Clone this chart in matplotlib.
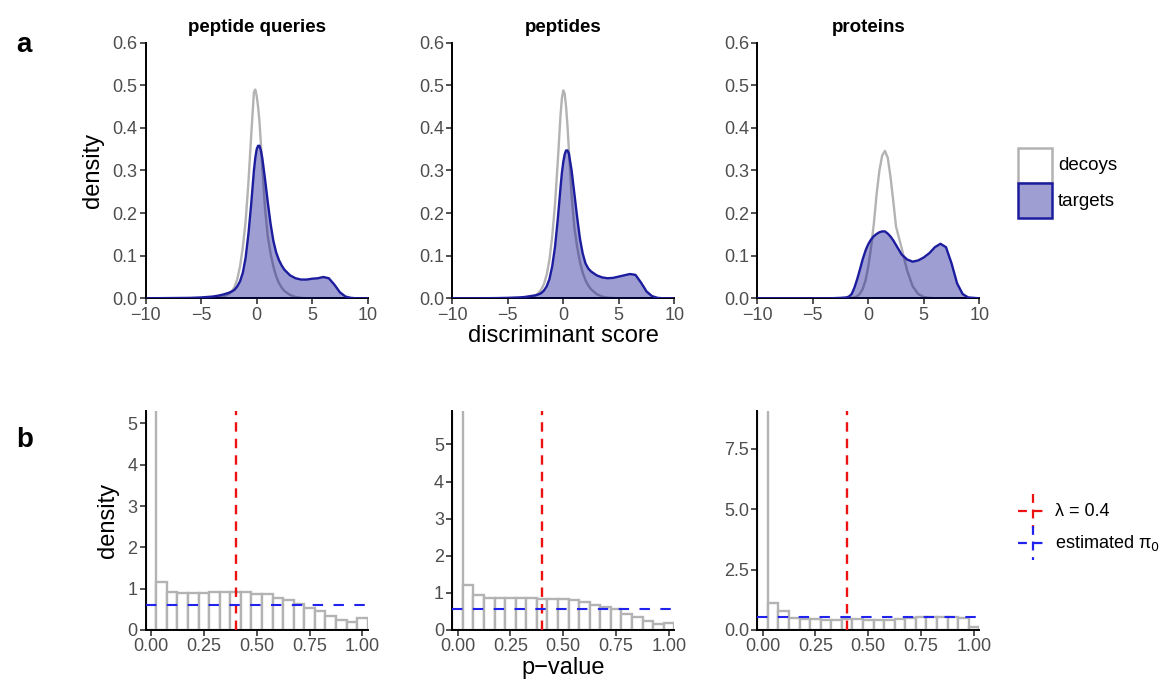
import numpy as np
import matplotlib
matplotlib.use("Agg")
import matplotlib.pyplot as plt
from matplotlib.patches import Rectangle
from matplotlib.lines import Line2D

plt.rcParams['font.family'] = ['Liberation Sans', 'DejaVu Sans']

# ---------------- data ----------------
panel_titles = ["peptide queries", "peptides", "proteins"]

score_grid = [-10, -8, -6, -5, -4, -3.5, -3, -2.5, -2.25, -2, -1.75, -1.5, -1.25, -1,
              -0.75, -0.5, -0.25, -0.125, 0, 0.125, 0.25, 0.375, 0.5, 0.75, 1, 1.25, 1.5, 1.75,
              2, 2.25, 2.5, 3, 3.5, 4, 4.5, 5, 5.5, 6, 6.5, 7, 7.5, 8, 8.5, 9, 10]

decoy_queries = [0, 0, 0, 0.0005, 0.001, 0.002, 0.004, 0.01, 0.016, 0.026, 0.045, 0.075, 0.12, 0.18,
                 0.27, 0.38, 0.484, 0.49, 0.475, 0.45, 0.415, 0.365, 0.31, 0.21, 0.145, 0.105, 0.075, 0.052,
                 0.036, 0.025, 0.017, 0.008, 0.003, 0.001, 0, 0, 0, 0, 0, 0, 0, 0, 0, 0, 0]
target_queries = [0, 0.0005, 0.001, 0.002, 0.004, 0.006, 0.009, 0.013, 0.016, 0.02, 0.028, 0.04, 0.06, 0.095,
                  0.15, 0.22, 0.30, 0.33, 0.35, 0.358, 0.358, 0.347, 0.33, 0.28, 0.225, 0.175, 0.135, 0.108,
                  0.09, 0.077, 0.067, 0.054, 0.047, 0.044, 0.044, 0.046, 0.047, 0.05, 0.047, 0.032, 0.014,
                  0.004, 0.001, 0, 0]

decoy_peptides = [0, 0, 0, 0.0005, 0.001, 0.002, 0.003, 0.007, 0.012, 0.02, 0.033, 0.055, 0.09, 0.145,
                  0.22, 0.32, 0.43, 0.47, 0.488, 0.48, 0.45, 0.405, 0.35, 0.24, 0.165, 0.12, 0.085, 0.06,
                  0.042, 0.03, 0.021, 0.01, 0.004, 0.0015, 0.0005, 0, 0, 0, 0, 0, 0, 0, 0, 0, 0]
target_peptides = [0, 0, 0.0005, 0.001, 0.002, 0.003, 0.005, 0.007, 0.009, 0.012, 0.018, 0.028, 0.045, 0.075,
                   0.12, 0.185, 0.26, 0.295, 0.32, 0.338, 0.347, 0.347, 0.34, 0.30, 0.245, 0.19, 0.14, 0.105,
                   0.082, 0.07, 0.063, 0.054, 0.049, 0.047, 0.048, 0.051, 0.054, 0.057, 0.055, 0.037, 0.016,
                   0.005, 0.001, 0, 0]

decoy_proteins = [0, 0, 0, 0, 0, 0, 0, 0, 0, 0, 0.0005, 0.001, 0.002, 0.005,
                  0.011, 0.022, 0.042, 0.058, 0.075, 0.097, 0.12, 0.148, 0.175, 0.245, 0.30, 0.335, 0.346, 0.33,
                  0.285, 0.228, 0.168, 0.118, 0.065, 0.028, 0.01, 0.003, 0.001, 0, 0, 0, 0, 0, 0, 0, 0]
target_proteins = [0, 0, 0, 0, 0, 0, 0.0005, 0.001, 0.0015, 0.002, 0.004, 0.01, 0.025, 0.045,
                   0.068, 0.092, 0.112, 0.12, 0.127, 0.133, 0.138, 0.142, 0.146, 0.151, 0.155, 0.157, 0.157, 0.152,
                   0.145, 0.136, 0.125, 0.103, 0.091, 0.086, 0.089, 0.096, 0.106, 0.12, 0.128, 0.12, 0.082,
                   0.035, 0.01, 0.002, 0]

decoy_curves = [decoy_queries, decoy_peptides, decoy_proteins]
target_curves = [target_queries, target_peptides, target_proteins]

pvalue_bins = [0.00, 0.05, 0.10, 0.15, 0.20, 0.25, 0.30, 0.35, 0.40, 0.45, 0.50,
               0.55, 0.60, 0.65, 0.70, 0.75, 0.80, 0.85, 0.90, 0.95, 1.00]
hist_queries = [14.0, 1.15, 0.93, 0.89, 0.89, 0.90, 0.91, 0.92, 0.93, 0.92, 0.88,
                0.86, 0.78, 0.72, 0.64, 0.54, 0.45, 0.35, 0.25, 0.19, 0.28]
hist_peptides = [16.0, 1.2, 0.93, 0.87, 0.85, 0.85, 0.85, 0.85, 0.84, 0.84, 0.83,
                 0.81, 0.75, 0.68, 0.63, 0.56, 0.43, 0.34, 0.25, 0.16, 0.18]
hist_proteins = [30.0, 1.11, 0.77, 0.48, 0.45, 0.45, 0.43, 0.40, 0.45, 0.45, 0.43,
                 0.43, 0.40, 0.45, 0.48, 0.52, 0.55, 0.55, 0.55, 0.48, 0.14]
hists = [hist_queries, hist_peptides, hist_proteins]

lambda_value = 0.4
pi0_values = [0.6, 0.57, 0.55]
hist_ymax = [5.3, 5.9, 9.05]
hist_yticks = [[0, 1, 2, 3, 4, 5], [0, 1, 2, 3, 4, 5], [0, 2.5, 5.0, 7.5]]
hist_yticklabels = [["0", "1", "2", "3", "4", "5"], ["0", "1", "2", "3", "4", "5"],
                    ["0.0", "2.5", "5.0", "7.5"]]

# ---------------- figure ----------------
W, H = 1165, 686
fig = plt.figure(figsize=(W / 100, H / 100), dpi=100)

def fx(x):
    return x / W

def fy(y):
    return 1 - y / H

lefts = [145.7, 452.3, 757.3]
width = 222.0
top_y0, top_y1 = 42.7, 298.3
bot_y0, bot_y1 = 411.0, 630.0

decoy_col = "#b3b3b3"
target_edge = "#1c1c9e"
target_fill = "#00008b"
tick_col = "#4d4d4d"

def style_axes(ax):
    for s in ["top", "right"]:
        ax.spines[s].set_visible(False)
    for s in ["left", "bottom"]:
        ax.spines[s].set_linewidth(1.4)
        ax.spines[s].set_color("black")
    ax.tick_params(axis="both", length=4, width=1.2, color="#333333",
                   labelcolor=tick_col, labelsize=13, pad=2)

x = np.array(score_grid)
for i in range(3):
    ax = fig.add_axes([fx(lefts[i]), fy(top_y1), fx(width), (top_y1 - top_y0) / H])
    d = np.array(decoy_curves[i])
    t = np.array(target_curves[i])
    ax.fill_between(x, 0, d, color="white", zorder=1)
    ax.plot(x, d, color=decoy_col, lw=1.7, zorder=2)
    ax.fill_between(x, 0, t, color=target_fill, alpha=0.38, lw=0, zorder=3)
    ax.plot(x, t, color=target_edge, lw=1.7, zorder=4)
    ax.set_xlim(-10, 10)
    ax.set_ylim(0, 0.6)
    ax.set_xticks([-10, -5, 0, 5, 10])
    ax.set_yticks([0, 0.1, 0.2, 0.3, 0.4, 0.5, 0.6])
    ax.set_yticklabels(["0.0", "0.1", "0.2", "0.3", "0.4", "0.5", "0.6"])
    style_axes(ax)
    ax.set_title(panel_titles[i], fontsize=13.5, fontweight="bold", pad=8)
    if i == 0:
        ax.set_ylabel("density", fontsize=17, labelpad=6)
    if i == 1:
        ax.set_xlabel("discriminant score", fontsize=17, labelpad=1)

for i in range(3):
    ax = fig.add_axes([fx(lefts[i]), fy(bot_y1), fx(width), (bot_y1 - bot_y0) / H])
    ax.bar(pvalue_bins, hists[i], width=0.05, color="white", edgecolor=decoy_col,
           linewidth=1.7, zorder=2)
    ax.axvline(lambda_value, color="#ee1111", lw=1.7, ls=(0, (4, 3)), zorder=3)
    ax.axhline(pi0_values[i], color="#2222ee", lw=1.5, ls=(0, (5, 5)), zorder=3)
    ax.set_xlim(-0.025, 1.025)
    ax.set_ylim(0, hist_ymax[i])
    ax.set_xticks([0, 0.25, 0.5, 0.75, 1.0])
    ax.set_xticklabels(["0.00", "0.25", "0.50", "0.75", "1.00"])
    ax.set_yticks(hist_yticks[i])
    ax.set_yticklabels(hist_yticklabels[i])
    style_axes(ax)
    if i == 0:
        ax.set_ylabel("density", fontsize=17, labelpad=6)
    if i == 1:
        ax.set_xlabel("p\u2212value", fontsize=17, labelpad=1)

# panel letters
fig.text(fx(16), fy(45), "a", fontsize=20, fontweight="bold", va="center", ha="left")
fig.text(fx(16), fy(440), "b", fontsize=20, fontweight="bold", va="center", ha="left")

# legend top
fig.patches.append(Rectangle((fx(1018), fy(183)), fx(34), 35 / H, transform=fig.transFigure,
                             facecolor="white", edgecolor=decoy_col, lw=1.8))
fig.patches.append(Rectangle((fx(1018), fy(218)), fx(34), 35 / H, transform=fig.transFigure,
                             facecolor=(158 / 255, 158 / 255, 211 / 255), edgecolor=target_edge, lw=1.8))
fig.text(fx(1058), fy(166), "decoys", fontsize=13.5, va="center", ha="left")
fig.text(fx(1058), fy(201), "targets", fontsize=13.5, va="center", ha="left")

# legend bottom
for yc, col, lab in [(511, "#ee1111", "\u03bb = 0.4"), (543, "#2222ee", "estimated \u03c0$_0$")]:
    fig.lines.append(Line2D([fx(1018), fx(1047)], [fy(yc), fy(yc)], transform=fig.transFigure,
                            color=col, lw=1.6, ls=(0, (4, 3))))
    fig.lines.append(Line2D([fx(1032.5), fx(1032.5)], [fy(yc - 17), fy(yc + 17)],
                            transform=fig.transFigure, color=col, lw=1.6, ls=(0, (4, 3))))
    fig.text(fx(1055), fy(yc), lab, fontsize=13, va="center", ha="left")

fig.savefig("out.png", dpi=100)
